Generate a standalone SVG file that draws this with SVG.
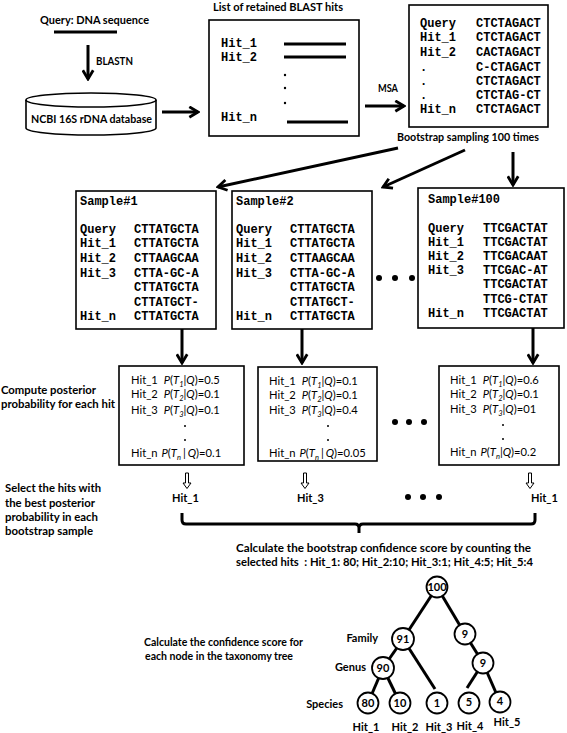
<svg xmlns="http://www.w3.org/2000/svg" width="567" height="733" viewBox="0 0 567 733">
<style>
.lbl{font-family:Lato,"Open Sans","Liberation Sans",sans-serif;font-weight:bold;font-size:11px;fill:#000}
.mono{font-family:"Liberation Mono","Courier New",monospace;font-weight:bold;font-size:12px;fill:#000}
.post{font-family:Lato,"Open Sans","Liberation Sans",sans-serif;font-size:11.2px;fill:#000}
.it{font-style:italic}
.sub{font-style:italic;font-size:7.5px}
.box{fill:#fff;stroke:#000;stroke-width:1.6}
.ln{stroke:#000;stroke-width:3;fill:none}
.arr{stroke:#000;stroke-width:3;fill:none;marker-end:url(#ah)}
.edge{stroke:#000;stroke-width:3}
.node circle{fill:#fff;stroke:#000;stroke-width:1.8}
.num{font-family:Lato,"Open Sans","Liberation Sans",sans-serif;font-weight:bold;font-size:11px;text-anchor:middle}
.hol{fill:#fff;stroke:#000;stroke-width:1}
</style>
<defs>
<marker id="ah" viewBox="0 0 12 12" refX="10" refY="6" markerWidth="13" markerHeight="13" markerUnits="userSpaceOnUse" orient="auto">
<path d="M2,1.2 L10,6 L2,10.8" fill="none" stroke="#000" stroke-width="2.6"/>
</marker>
<path id="hollow" d="M-1.5,0 h3 v10 h2.5 l-4,5.5 l-4,-5.5 h2.5 z"/>
</defs>

<g id="query">
<text class="lbl" x="40" y="24" textLength="109" lengthAdjust="spacingAndGlyphs">Query: DNA sequence</text>
<line class="ln" x1="54" y1="32" x2="117" y2="32"/>
<text class="lbl" x="96" y="65" textLength="37" lengthAdjust="spacingAndGlyphs">BLASTN</text>
</g>

<g id="database">
<path d="M26,100 L26,128 A65,7 0 0 0 156,128 L156,100" fill="#fff" stroke="#000" stroke-width="1.6"/>
<ellipse cx="91" cy="100" rx="65" ry="7" fill="#fff" stroke="#000" stroke-width="1.6"/>
<text class="lbl" x="31" y="123" textLength="121" lengthAdjust="spacingAndGlyphs">NCBI 16S rDNA database</text>
</g>

<g id="blast-hits">
<text class="lbl" x="213" y="11" textLength="130" lengthAdjust="spacingAndGlyphs">List of retained BLAST hits</text>
<rect class="box" x="209" y="20" width="150" height="116"/>
<text class="mono" x="221" y="47">Hit_1</text>
<text class="mono" x="221" y="61">Hit_2</text>
<text class="mono" x="221" y="121">Hit_n</text>
<line class="ln" x1="284" y1="44" x2="346" y2="44"/>
<line class="ln" x1="284" y1="57" x2="346" y2="57"/>
<line class="ln" x1="287" y1="122" x2="348" y2="122"/>
<circle cx="285" cy="75" r="1.2"/>
<circle cx="285" cy="88" r="1.2"/>
<circle cx="285" cy="103" r="1.2"/>
</g>

<g id="msa">
<rect class="box" x="409" y="5" width="139" height="122"/>
<text class="mono" x="420" y="27">Query</text><text class="mono" x="476" y="27">CTCTAGACT</text>
<text class="mono" x="420" y="41">Hit_1</text><text class="mono" x="476" y="41">CTCTAGACT</text>
<text class="mono" x="420" y="56">Hit_2</text><text class="mono" x="476" y="56">CACTAGACT</text>
<text class="mono" x="420" y="71">.</text><text class="mono" x="476" y="71">C-CTAGACT</text>
<text class="mono" x="420" y="85">.</text><text class="mono" x="476" y="85">CTCTAGACT</text>
<text class="mono" x="420" y="99">.</text><text class="mono" x="476" y="99">CTCTAG-CT</text>
<text class="mono" x="420" y="113">Hit_n</text><text class="mono" x="476" y="113">CTCTAGACT</text>
</g>

<g id="sample1">
<rect class="box" x="76" y="191" width="140" height="138"/>
<text class="mono" x="80" y="205">Sample#1</text>
<text class="mono" x="80" y="233">Query</text><text class="mono" x="134" y="233">CTTATGCTA</text>
<text class="mono" x="80" y="247">Hit_1</text><text class="mono" x="134" y="247">CTTATGCTA</text>
<text class="mono" x="80" y="262">Hit_2</text><text class="mono" x="134" y="262">CTTAAGCAA</text>
<text class="mono" x="80" y="277">Hit_3</text><text class="mono" x="134" y="277">CTTA-GC-A</text>
<text class="mono" x="134" y="291">CTTATGCTA</text>
<text class="mono" x="134" y="306">CTTATGCT-</text>
<text class="mono" x="80" y="320">Hit_n</text><text class="mono" x="134" y="320">CTTATGCTA</text>
</g>

<g id="sample2">
<rect class="box" x="232" y="191" width="140" height="138"/>
<text class="mono" x="236" y="205">Sample#2</text>
<text class="mono" x="236" y="233">Query</text><text class="mono" x="290" y="233">CTTATGCTA</text>
<text class="mono" x="236" y="247">Hit_1</text><text class="mono" x="290" y="247">CTTATGCTA</text>
<text class="mono" x="236" y="262">Hit_2</text><text class="mono" x="290" y="262">CTTAAGCAA</text>
<text class="mono" x="236" y="277">Hit_3</text><text class="mono" x="290" y="277">CTTA-GC-A</text>
<text class="mono" x="290" y="291">CTTATGCTA</text>
<text class="mono" x="290" y="306">CTTATGCT-</text>
<text class="mono" x="236" y="320">Hit_n</text><text class="mono" x="290" y="320">CTTATGCTA</text>
</g>

<g id="sample-dots">
<circle cx="379" cy="278" r="3"/><circle cx="395" cy="278" r="3"/><circle cx="412" cy="278" r="3"/>
</g>

<g id="sample100">
<rect class="box" x="418" y="188" width="146" height="140"/>
<text class="mono" x="428" y="203">Sample#100</text>
<text class="mono" x="428" y="232">Query</text><text class="mono" x="483" y="232">TTCGACTAT</text>
<text class="mono" x="428" y="246">Hit_1</text><text class="mono" x="483" y="246">TTCGACTAT</text>
<text class="mono" x="428" y="260">Hit_2</text><text class="mono" x="483" y="260">TTCGACAAT</text>
<text class="mono" x="428" y="274">Hit_3</text><text class="mono" x="483" y="274">TTCGAC-AT</text>
<text class="mono" x="483" y="288">TTCGACTAT</text>
<text class="mono" x="483" y="303">TTCG-CTAT</text>
<text class="mono" x="428" y="317">Hit_n</text><text class="mono" x="483" y="317">TTCGACTAT</text>
</g>

<g id="labels">
<text class="lbl" x="378" y="92" textLength="20" lengthAdjust="spacingAndGlyphs">MSA</text>
<text class="lbl" x="397" y="141" textLength="142" lengthAdjust="spacingAndGlyphs">Bootstrap sampling 100 times</text>
<text class="lbl" x="1" y="394" textLength="95" lengthAdjust="spacingAndGlyphs">Compute posterior</text>
<text class="lbl" x="1" y="408" textLength="114" lengthAdjust="spacingAndGlyphs">probability for each hit</text>
<text class="lbl" x="5" y="492" textLength="96" lengthAdjust="spacingAndGlyphs">Select the hits with</text>
<text class="lbl" x="5" y="507" textLength="90" lengthAdjust="spacingAndGlyphs">the best posterior</text>
<text class="lbl" x="5" y="521" textLength="93" lengthAdjust="spacingAndGlyphs">probability in each</text>
<text class="lbl" x="5" y="535" textLength="88" lengthAdjust="spacingAndGlyphs">bootstrap sample</text>
<text class="lbl" x="236" y="552" textLength="295" lengthAdjust="spacingAndGlyphs">Calculate the bootstrap confidence score by counting the</text>
<text class="lbl" x="236" y="566" textLength="297" lengthAdjust="spacingAndGlyphs">selected hits &#160;: Hit_1: 80; Hit_2:10; Hit_3:1; Hit_4:5; Hit_5:4</text>
<text class="lbl" x="144" y="646" textLength="159" lengthAdjust="spacingAndGlyphs">Calculate the confidence score for</text>
<text class="lbl" x="145" y="660" textLength="148" lengthAdjust="spacingAndGlyphs">each node in the taxonomy tree</text>
<text class="lbl" x="378" y="642" text-anchor="end">Family</text>
<text class="lbl" x="366" y="671" text-anchor="end">Genus</text>
<text class="lbl" x="343" y="708" text-anchor="end">Species</text>
</g>

<g id="post1">
<rect class="box" x="119" y="366" width="125" height="99"/>
<text class="post" x="131" y="384">Hit_1<tspan class="it" dx="6">P</tspan>(<tspan class="it">T</tspan><tspan class="sub" dy="2.5">1</tspan><tspan dy="-2.5">|</tspan><tspan class="it">Q</tspan>)=0.5</text>
<text class="post" x="131" y="398">Hit_2<tspan class="it" dx="6">P</tspan>(<tspan class="it">T</tspan><tspan class="sub" dy="2.5">2</tspan><tspan dy="-2.5">|</tspan><tspan class="it">Q</tspan>)=0.1</text>
<text class="post" x="131" y="414">Hit_3<tspan class="it" dx="6">P</tspan>(<tspan class="it">T</tspan><tspan class="sub" dy="2.5">3</tspan><tspan dy="-2.5">|</tspan><tspan class="it">Q</tspan>)=0.1</text>
<circle cx="185" cy="426" r="1"/><circle cx="185" cy="440" r="1"/>
<text class="post" x="131" y="457">Hit_n<tspan class="it" dx="4">P</tspan>(<tspan class="it">T</tspan><tspan class="sub" dy="2.5">n</tspan><tspan dy="-2.5" dx="2">|</tspan><tspan class="it" dx="2">Q</tspan>)=0.1</text>
</g>

<g id="post2">
<rect class="box" x="258" y="367" width="119" height="94"/>
<text class="post" x="269" y="385">Hit_1<tspan class="it" dx="6">P</tspan>(<tspan class="it">T</tspan><tspan class="sub" dy="2.5">1</tspan><tspan dy="-2.5">|</tspan><tspan class="it">Q</tspan>)=0.1</text>
<text class="post" x="269" y="399">Hit_2<tspan class="it" dx="6">P</tspan>(<tspan class="it">T</tspan><tspan class="sub" dy="2.5">2</tspan><tspan dy="-2.5">|</tspan><tspan class="it">Q</tspan>)=0.1</text>
<text class="post" x="269" y="414">Hit_3<tspan class="it" dx="6">P</tspan>(<tspan class="it">T</tspan><tspan class="sub" dy="2.5">3</tspan><tspan dy="-2.5">|</tspan><tspan class="it">Q</tspan>)=0.4</text>
<circle cx="328" cy="426" r="1"/><circle cx="328" cy="440" r="1"/>
<text class="post" x="269" y="457">Hit_n<tspan class="it" dx="4">P</tspan>(<tspan class="it">T</tspan><tspan class="sub" dy="2.5">n</tspan><tspan dy="-2.5" dx="2">|</tspan><tspan class="it" dx="2">Q</tspan>)=0.05</text>
</g>

<g id="post-dots">
<circle cx="395" cy="422" r="3"/><circle cx="409" cy="422" r="3"/><circle cx="424" cy="422" r="3"/>
</g>

<g id="post100">
<rect class="box" x="439" y="366" width="120" height="99"/>
<text class="post" x="450" y="384">Hit_1<tspan class="it" dx="6">P</tspan>(<tspan class="it">T</tspan><tspan class="sub" dy="2.5">1</tspan><tspan dy="-2.5">|</tspan><tspan class="it">Q</tspan>)=0.6</text>
<text class="post" x="450" y="398">Hit_2<tspan class="it" dx="6">P</tspan>(<tspan class="it">T</tspan><tspan class="sub" dy="2.5">2</tspan><tspan dy="-2.5">|</tspan><tspan class="it">Q</tspan>)=0.1</text>
<text class="post" x="450" y="413">Hit_3<tspan class="it" dx="6">P</tspan>(<tspan class="it">T</tspan><tspan class="sub" dy="2.5">3</tspan><tspan dy="-2.5">|</tspan><tspan class="it">Q</tspan>)=01</text>
<circle cx="503" cy="425" r="1"/><circle cx="503" cy="439" r="1"/>
<text class="post" x="450" y="456">Hit_n<tspan class="it" dx="4">P</tspan>(<tspan class="it">T</tspan><tspan class="sub" dy="2.5">n</tspan><tspan dy="-2.5">|</tspan><tspan class="it">Q</tspan>)=0.2</text>
</g>

<g id="selected">
<use href="#hollow" class="hol" x="187" y="473"/>
<use href="#hollow" class="hol" x="305" y="473"/>
<use href="#hollow" class="hol" x="530" y="473"/>
<text class="lbl" x="172" y="502">Hit_1</text>
<text class="lbl" x="297" y="502">Hit_3</text>
<text class="lbl" x="531" y="502">Hit_1</text>
<circle cx="408" cy="497" r="3"/><circle cx="423" cy="497" r="3"/><circle cx="439" cy="497" r="3"/>
</g>

<g id="connectors">
<line class="arr" x1="88" y1="45" x2="88" y2="79"/>
<line class="arr" x1="162" y1="112" x2="198" y2="112"/>
<line class="arr" x1="365" y1="106" x2="404" y2="106"/>
<line class="arr" x1="398" y1="148" x2="218" y2="187"/>
<line class="arr" x1="465" y1="150" x2="383" y2="187"/>
<line class="arr" x1="513" y1="152" x2="513" y2="185"/>
<line class="arr" x1="182" y1="329" x2="182" y2="363"/>
<line class="arr" x1="302" y1="329" x2="302" y2="363"/>
<line class="arr" x1="533" y1="328" x2="533" y2="363"/>
<path class="ln" d="M182,513 L182,520 Q182,524 186,524 L355,524 Q359,524 359,528 L359,533 M359,528 Q359,524 363,524 L531,524 Q535,524 535,520 L535,513"/>
<line class="edge" x1="437" y1="587" x2="403" y2="639"/>
<line class="edge" x1="437" y1="587" x2="465" y2="634"/>
<line class="edge" x1="403" y1="639" x2="383" y2="668"/>
<line class="edge" x1="403" y1="639" x2="435" y2="689"/>
<line class="edge" x1="465" y1="634" x2="483" y2="663"/>
<line class="edge" x1="483" y1="663" x2="467" y2="688"/>
<line class="edge" x1="483" y1="663" x2="500" y2="702"/>
<line class="edge" x1="383" y1="668" x2="368" y2="703"/>
<line class="edge" x1="383" y1="668" x2="400" y2="703"/>
</g>

<g id="n100" class="node"><circle cx="437" cy="587" r="10.5"/><text class="num" x="437" y="591">100</text></g>
<g id="n91" class="node"><circle cx="403" cy="639" r="11"/><text class="num" x="403" y="643">91</text></g>
<g id="n9a" class="node"><circle cx="465" cy="634" r="10.5"/><text class="num" x="465" y="638">9</text></g>
<g id="n90" class="node"><circle cx="383" cy="668" r="11"/><text class="num" x="383" y="672">90</text></g>
<g id="n9b" class="node"><circle cx="483" cy="663" r="10.5"/><text class="num" x="483" y="667">9</text></g>
<g id="n80" class="node"><circle cx="368" cy="703" r="10.5"/><text class="num" x="368" y="707">80</text></g>
<g id="n10" class="node"><circle cx="400" cy="703" r="10.5"/><text class="num" x="400" y="707">10</text></g>
<g id="n1" class="node"><circle cx="437" cy="703" r="10.5"/><text class="num" x="437" y="707">1</text></g>
<g id="n5" class="node"><circle cx="469" cy="703" r="10.5"/><text class="num" x="469" y="706">5</text></g>
<g id="n4" class="node"><circle cx="500" cy="702" r="10.5"/><text class="num" x="500" y="705">4</text></g>

<g id="tree-labels">
<text class="lbl" x="366" y="731" text-anchor="middle">Hit_1</text>
<text class="lbl" x="405" y="731" text-anchor="middle">Hit_2</text>
<text class="lbl" x="439" y="731" text-anchor="middle">Hit_3</text>
<text class="lbl" x="470" y="730" text-anchor="middle">Hit_4</text>
<text class="lbl" x="507" y="726" text-anchor="middle">Hit_5</text>
</g>
</svg>
